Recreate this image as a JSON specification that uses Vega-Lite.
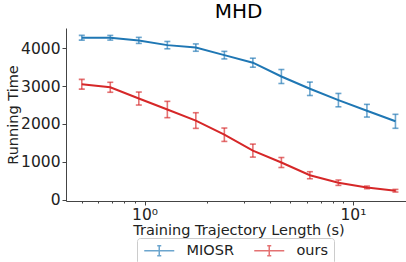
{
  "$schema": "https://vega.github.io/schema/vega-lite/v6.json",
  "autosize": "none",
  "width": 345,
  "height": 173,
  "padding": {"left": 66, "top": 28, "right": 0, "bottom": 61},
  "background": "white",
  "title": {"text": "MHD", "fontSize": 20, "font": "DejaVu Sans", "fontWeight": "normal", "offset": 6, "color": "#000"},
  "config": {
    "view": {"stroke": null},
    "axis": {"grid": false, "domainColor": "#444", "tickColor": "#444", "labelColor": "#222", "titleColor": "#222", "labelFont": "DejaVu Sans", "titleFont": "DejaVu Sans", "labelFontSize": 15.5, "titleFontSize": 14.5, "titleFontWeight": "normal"}
  },
  "data": {"values": [
    {"series": "MIOSR", "x": 0.5, "mean": 4280, "lo": 4218, "hi": 4342},
    {"series": "MIOSR", "x": 0.685, "mean": 4280, "lo": 4218, "hi": 4342},
    {"series": "MIOSR", "x": 0.939, "mean": 4210, "lo": 4130, "hi": 4290},
    {"series": "MIOSR", "x": 1.287, "mean": 4085, "lo": 3988, "hi": 4182},
    {"series": "MIOSR", "x": 1.763, "mean": 4020, "lo": 3923, "hi": 4117},
    {"series": "MIOSR", "x": 2.416, "mean": 3820, "lo": 3720, "hi": 3920},
    {"series": "MIOSR", "x": 3.311, "mean": 3620, "lo": 3501, "hi": 3739},
    {"series": "MIOSR", "x": 4.537, "mean": 3255, "lo": 3070, "hi": 3440},
    {"series": "MIOSR", "x": 6.217, "mean": 2930, "lo": 2753, "hi": 3107},
    {"series": "MIOSR", "x": 8.52, "mean": 2630, "lo": 2453, "hi": 2807},
    {"series": "MIOSR", "x": 11.675, "mean": 2350, "lo": 2182, "hi": 2518},
    {"series": "MIOSR", "x": 16.0, "mean": 2070, "lo": 1885, "hi": 2255},
    {"series": "ours", "x": 0.5, "mean": 3050, "lo": 2922, "hi": 3178},
    {"series": "ours", "x": 0.685, "mean": 2970, "lo": 2838, "hi": 3102},
    {"series": "ours", "x": 0.939, "mean": 2672, "lo": 2500, "hi": 2844},
    {"series": "ours", "x": 1.287, "mean": 2382, "lo": 2166, "hi": 2598},
    {"series": "ours", "x": 1.763, "mean": 2090, "lo": 1883, "hi": 2297},
    {"series": "ours", "x": 2.416, "mean": 1715, "lo": 1538, "hi": 1892},
    {"series": "ours", "x": 3.311, "mean": 1295, "lo": 1123, "hi": 1467},
    {"series": "ours", "x": 4.537, "mean": 980, "lo": 848, "hi": 1112},
    {"series": "ours", "x": 6.217, "mean": 644, "lo": 551, "hi": 737},
    {"series": "ours", "x": 8.52, "mean": 446, "lo": 375, "hi": 517},
    {"series": "ours", "x": 11.675, "mean": 322, "lo": 287, "hi": 357},
    {"series": "ours", "x": 16.0, "mean": 234, "lo": 199, "hi": 269}
  ]},
  "encoding": {
    "x": {"field": "x", "type": "quantitative",
      "scale": {"type": "log", "domain": [0.42, 19.0], "nice": false},
      "axis": {"title": "Training Trajectory Length (s)", "values": [0.5, 0.6, 0.7, 0.8, 0.9, 1, 2, 3, 4, 5, 6, 7, 8, 9, 10],
        "labelExpr": "datum.value == 1 ? '10⁰' : (datum.value == 10 ? '10¹' : '')",
        "labelOverlap": false, "labelFlush": false, "labelPadding": 2,
        "tickSize": {"condition": {"test": "datum.value == 1 || datum.value == 10", "value": 4}, "value": 2},
        "titlePadding": 1}},
    "color": {"field": "series", "type": "nominal",
      "scale": {"domain": ["MIOSR", "ours"], "range": ["#1f77b4", "#d62728"]},
      "legend": {"orient": "none", "legendX": 71, "legendY": 210, "direction": "horizontal", "title": null,
        "symbolType": "M-1,0H5M2,-1V1M1.6,-1H2.4M1.6,1H2.4", "symbolSize": 100, "symbolStrokeWidth": 1.5,
        "labelFont": "DejaVu Sans", "labelFontSize": 14.5, "labelColor": "#222", "strokeColor": "#ccc", "padding": 5, "cornerRadius": 3,
        "columnPadding": 17, "labelOffset": 30, "fillColor": "white"}}
  },
  "layer": [
    {"mark": {"type": "line", "strokeWidth": 2},
     "encoding": {"y": {"field": "mean", "type": "quantitative",
        "scale": {"domain": [-38, 4538], "nice": false, "zero": false},
        "axis": {"title": "Running Time", "values": [0, 1000, 2000, 3000, 4000], "format": "d", "tickSize": 4, "labelPadding": 2, "titlePadding": 0}}}},
    {"mark": {"type": "errorbar", "thickness": 1.6, "ticks": {"size": 6, "thickness": 1.6, "opacity": 0.65}, "rule": {"opacity": 0.65}},
     "encoding": {"y": {"field": "lo", "type": "quantitative", "title": "Running Time"}, "y2": {"field": "hi"}}}
  ]
}
